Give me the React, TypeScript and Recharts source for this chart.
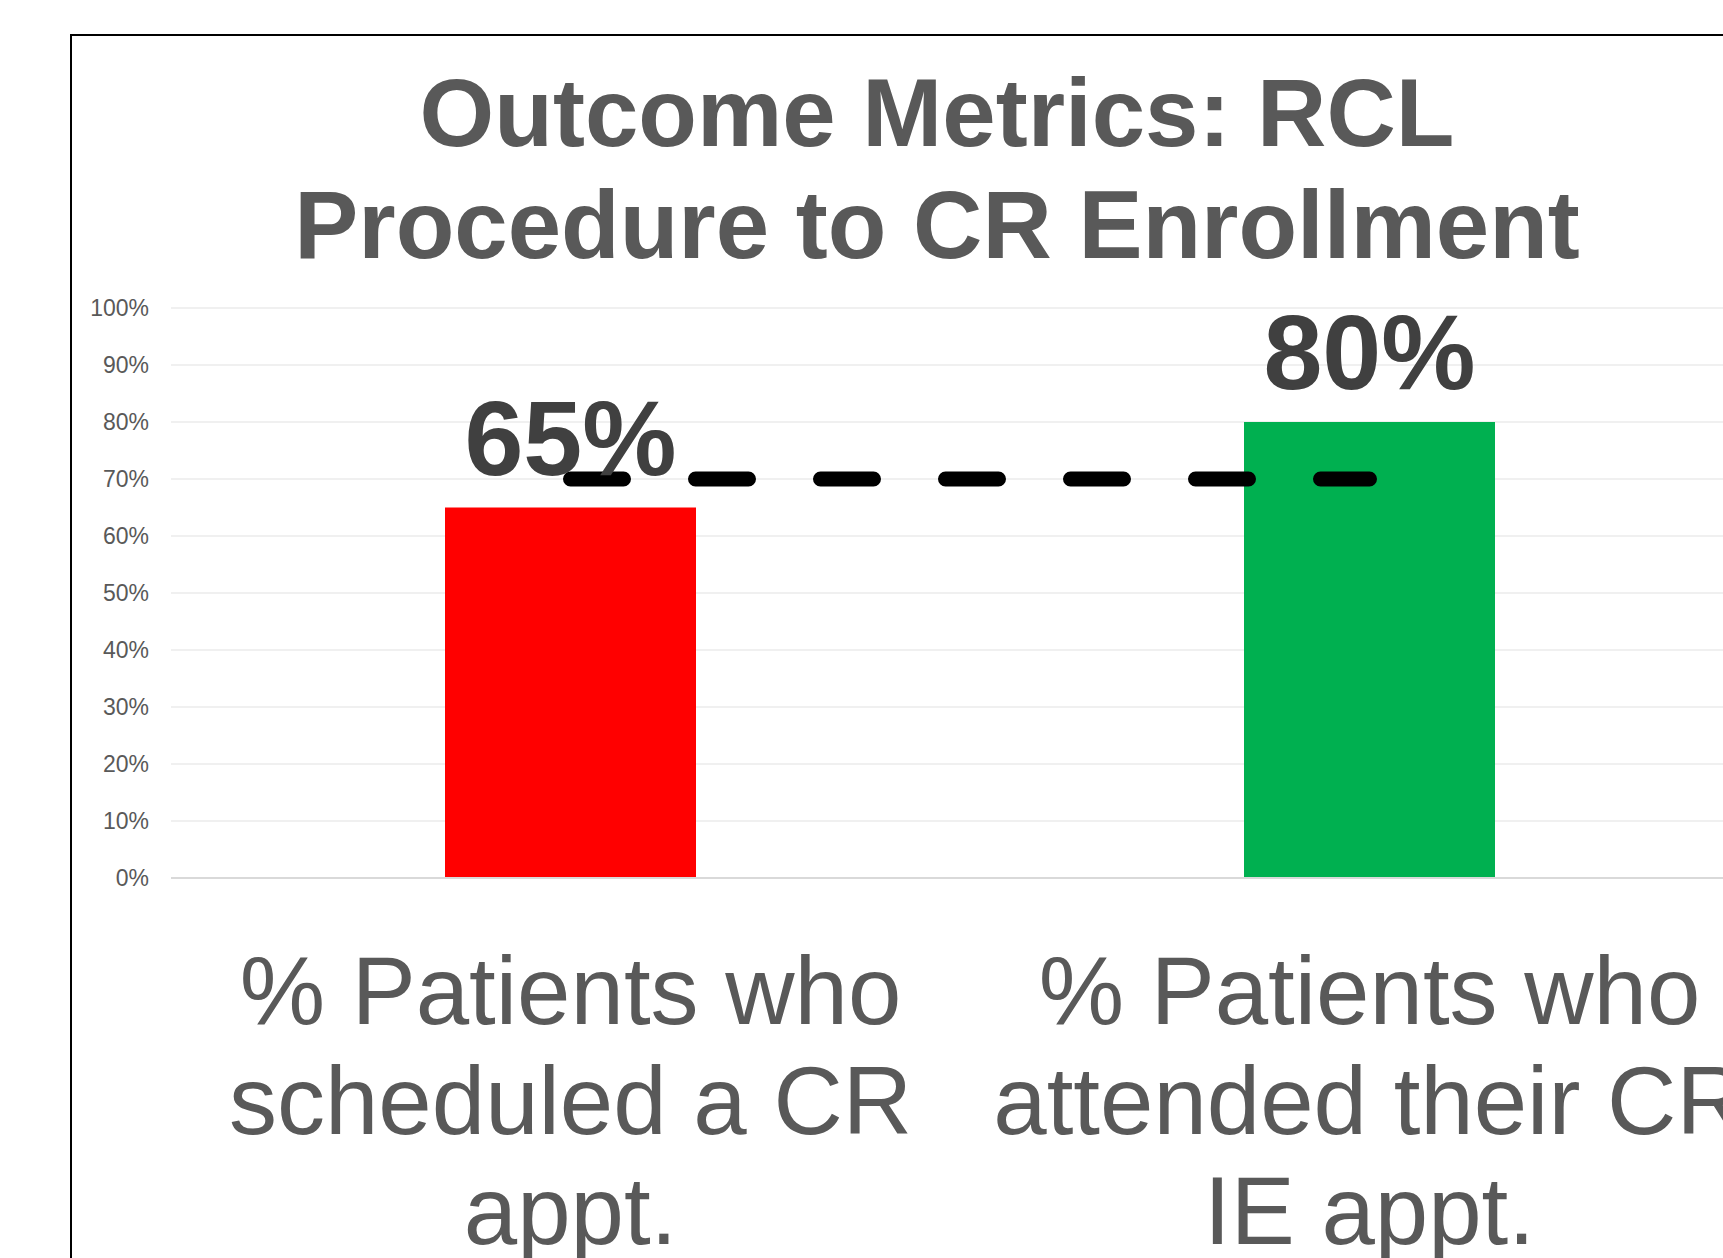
import React from "react"
import {
  ComposedChart,
  Bar,
  Line,
  XAxis,
  YAxis,
  CartesianGrid,
  Cell,
  LabelList,
} from "recharts"

const titleLines = ["Outcome Metrics: RCL", "Procedure to CR Enrollment"]

const categories = [
  "% Patients who\nscheduled a CR\nappt.",
  "% Patients who\nattended their CR\nIE appt.",
]
const percentValues = [65, 80]
const targetValues = [70, 70]
const barColors = ["#FF0000", "#00B050"]
const yTicks = [0, 10, 20, 30, 40, 50, 60, 70, 80, 90, 100]

const data = categories.map((name, i) => ({
  name,
  value: percentValues[i],
  target: targetValues[i],
}))

const FONT = "'Liberation Sans', Arial, sans-serif"
const GREY = "#595959"

const CategoryTick = (props: any) => {
  const { x, y, payload } = props
  const lines = String(payload.value).split("\n")
  return (
    <text
      x={x}
      y={y + 146}
      textAnchor="middle"
      fill={GREY}
      fontSize={96}
      fontFamily={FONT}
    >
      {lines.map((line, i) => (
        <tspan key={i} x={x} dy={i === 0 ? 0 : 110}>
          {line}
        </tspan>
      ))}
    </text>
  )
}

const ValueLabel = (props: any) => {
  const { x, y, width, value } = props
  return (
    <text
      x={x + width / 2}
      y={y - 33}
      textAnchor="middle"
      fill="#404040"
      fontSize={106}
      fontWeight="bold"
      fontFamily={FONT}
    >
      {`${value}%`}
    </text>
  )
}

export default function App() {
  return (
    <div
      style={{
        position: "fixed",
        left: 0,
        top: 0,
        width: 1723,
        height: 1258,
        overflow: "hidden",
        background: "#fff",
      }}
    >
      <div
        style={{
          position: "absolute",
          left: 70,
          top: 34,
          width: 1800,
          height: 1400,
          border: "2px solid #000",
          boxSizing: "border-box",
        }}
      />
      <svg
        width={1800}
        height={300}
        style={{ position: "absolute", left: 0, top: 0 }}
      >
        {titleLines.map((line, i) => (
          <text
            key={i}
            x={937}
            y={146 + i * 112}
            textAnchor="middle"
            fill={GREY}
            fontSize={96}
            fontWeight="bold"
            fontFamily={FONT}
          >
            {line}
          </text>
        ))}
      </svg>
      <div style={{ position: "absolute", left: 0, top: 0 }}>
        <ComposedChart
          width={1800}
          height={1300}
          data={data}
          margin={{ top: 308, right: 31, left: 1, bottom: 122 }}
        >
          <CartesianGrid vertical={false} stroke="#f0f0f0" strokeWidth={2} />
          <XAxis
            dataKey="name"
            height={300}
            axisLine={{ stroke: "#d9d9d9", strokeWidth: 2 }}
            tickLine={false}
            tickSize={0}
            tickMargin={0}
            interval={0}
            tick={<CategoryTick />}
          />
          <YAxis
            width={170}
            domain={[0, 100]}
            ticks={yTicks}
            axisLine={false}
            tickLine={false}
            tickSize={0}
            tickMargin={22}
            tickFormatter={(v: number) => `${v}%`}
            tick={{ fill: GREY, fontSize: 23, fontFamily: FONT }}
          />
          <Bar dataKey="value" barSize={251} isAnimationActive={false}>
            {data.map((_, i) => (
              <Cell key={`cell-${i}`} fill={barColors[i]} />
            ))}
            <LabelList dataKey="value" content={<ValueLabel />} />
          </Bar>
          <Line
            dataKey="target"
            stroke="#000"
            strokeWidth={15}
            strokeDasharray="53 72"
            strokeLinecap="round"
            dot={false}
            activeDot={false}
            isAnimationActive={false}
          />
        </ComposedChart>
      </div>
    </div>
  )
}
